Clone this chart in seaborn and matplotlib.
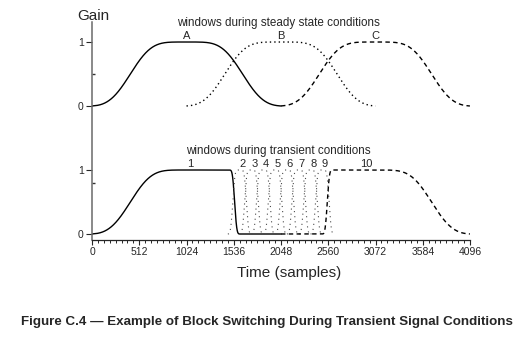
import numpy as np
import pandas as pd
import matplotlib
matplotlib.use("Agg")
import matplotlib.pyplot as plt
import seaborn as sns

# ---- window definitions (samples) ----
LONG_N = 2048           # long block length
SHORT_N = 256           # short block length
LONG_ALPHA = 4          # KBD alpha, long windows
SHORT_ALPHA = 6         # KBD alpha, short windows
START_FLAT = 448        # unity-gain run of the long start / stop windows

# steady state: three overlapping long windows
steady_starts = [0, 1024, 2048]
steady_labels = ["A", "B", "C"]
steady_styles = ["solid", "dotted", "dashed"]
STEADY_OFFSET = 2       # vertical offset of the upper panel

# transient: long start window, eight short windows, long stop window
start_win_start = 0
short_starts = [1472, 1600, 1728, 1856, 1984, 2112, 2240, 2368]
stop_win_start = 2048
transient_labels = ["1", "2", "3", "4", "5", "6", "7", "8", "9", "10"]
transient_label_x = [1060, 1628, 1758, 1885, 2008, 2138, 2268, 2398, 2521, 2976]

x_ticks = [0, 512, 1024, 1536, 2048, 2560, 3072, 3584, 4096]
y_ticks = [0, 1, 2, 3]
y_ticklabels = ["0", "1", "0", "1"]


def kbd_half(n, alpha):
    """Rising half of a Kaiser-Bessel-derived window of length n."""
    k = np.kaiser(n // 2 + 1, np.pi * alpha)
    c = np.cumsum(k[:-1])
    return np.sqrt(c / k.sum())


def long_window(start):
    x = start + np.arange(LONG_N)
    rise = kbd_half(LONG_N, LONG_ALPHA)
    return x, np.concatenate([rise, rise[::-1]])


def short_window(start):
    x = start + np.arange(SHORT_N)
    rise = kbd_half(SHORT_N, SHORT_ALPHA)
    return x, np.concatenate([rise, rise[::-1]])


def long_start_window(start):
    rise = kbd_half(LONG_N, LONG_ALPHA)
    fall = kbd_half(SHORT_N, SHORT_ALPHA)[::-1]
    zeros = np.zeros(LONG_N // 2 - START_FLAT - SHORT_N // 2)
    g = np.concatenate([rise, np.ones(START_FLAT), fall, zeros])
    return start + np.arange(g.size), g


def long_stop_window(start):
    x, g = long_start_window(0)
    return start + x, g[::-1]


frames = []
for s, lab, st in zip(steady_starts, steady_labels, steady_styles):
    x, g = long_window(s)
    frames.append(pd.DataFrame({"sample": x, "gain": g + STEADY_OFFSET,
                                "win": lab, "style": st}))

x, g = long_start_window(start_win_start)
frames.append(pd.DataFrame({"sample": x, "gain": g, "win": "1", "style": "solid"}))
for i, s in enumerate(short_starts):
    x, g = short_window(s)
    frames.append(pd.DataFrame({"sample": x, "gain": g, "win": str(i + 2),
                                "style": "short"}))
x, g = long_stop_window(stop_win_start)
frames.append(pd.DataFrame({"sample": x, "gain": g, "win": "10", "style": "dashed"}))

df = pd.concat(frames, ignore_index=True)

# ---- figure ----
sns.set_style("ticks")
plt.rcParams["font.family"] = ["Liberation Sans", "DejaVu Sans"]

W, H = 521, 338
fig = plt.figure(figsize=(W / 100, H / 100), dpi=100)
ax = fig.add_axes([92 / W, 98 / H, 378 / W, 218.3 / H])

line_styles = {
    "solid": dict(linestyle="-", linewidth=1.0, color="black"),
    "dotted": dict(linestyle=(0, (1, 2.2)), linewidth=1.0, color="black"),
    "dashed": dict(linestyle=(0, (3.2, 2.4)), linewidth=1.0, color="black"),
    "short": dict(linestyle=(0, (1, 3.6)), linewidth=0.8, color="#4a4a4a"),
}

for win, sub in df.groupby("win", sort=False):
    st = sub["style"].iloc[0]
    sns.lineplot(data=sub, x="sample", y="gain", ax=ax, estimator=None,
                 sort=False, legend=False, **line_styles[st])

ax.set_xlim(0, 4096)
ax.set_ylim(-6 / 64, 212.3 / 64)
ax.set_xlabel("")
ax.set_ylabel("")
sns.despine(ax=ax)
ax.spines["left"].set_color("#6a6a6a")
ax.spines["left"].set_linewidth(1.1)
ax.spines["bottom"].set_linewidth(0.9)

ax.set_xticks(x_ticks)
ax.set_xticklabels([str(t) for t in x_ticks])
ax.set_xticks(np.arange(0, 4097, 64), minor=True)
ax.set_yticks(y_ticks)
ax.set_yticklabels(y_ticklabels)
ax.set_yticks([0.8, 2.5], minor=True)
ax.tick_params(axis="x", which="major", length=3.5, width=0.8, pad=1.5,
               labelsize=7.5, direction="out")
ax.tick_params(axis="x", which="minor", length=2, width=0.7, direction="out")
ax.tick_params(axis="y", which="major", length=4, width=0.8, pad=2,
               labelsize=7.5, direction="out")
ax.tick_params(axis="y", which="minor", length=2, width=1.0, direction="in",
               color="#333333")

# panel annotations
ax.text(2020, 3.292, "windows during steady state conditions", ha="center",
        va="center", fontsize=8.4)
for s, lab in zip(steady_starts, steady_labels):
    ax.text(s + LONG_N / 2, 3.094, lab, ha="center", va="center", fontsize=8)

ax.text(2022, 1.30, "windows during transient conditions", ha="center",
        va="center", fontsize=8.4)
for xl, lab in zip(transient_label_x, transient_labels):
    ax.text(xl, 1.094, lab, ha="center", va="center", fontsize=8)

fig.text(93.5 / W, 1 - 20 / H, "Gain", ha="center", va="baseline", fontsize=11)
fig.text(289 / W, 1 - 273 / H, "Time (samples)", ha="center", va="center",
         fontsize=11)
fig.text(267 / W, 1 - 321.7 / H,
         "Figure C.4 \u2014 Example of Block Switching During Transient Signal Conditions",
         ha="center", va="center", fontsize=9.6, fontweight="bold")

fig.savefig("out.png", dpi=100)
